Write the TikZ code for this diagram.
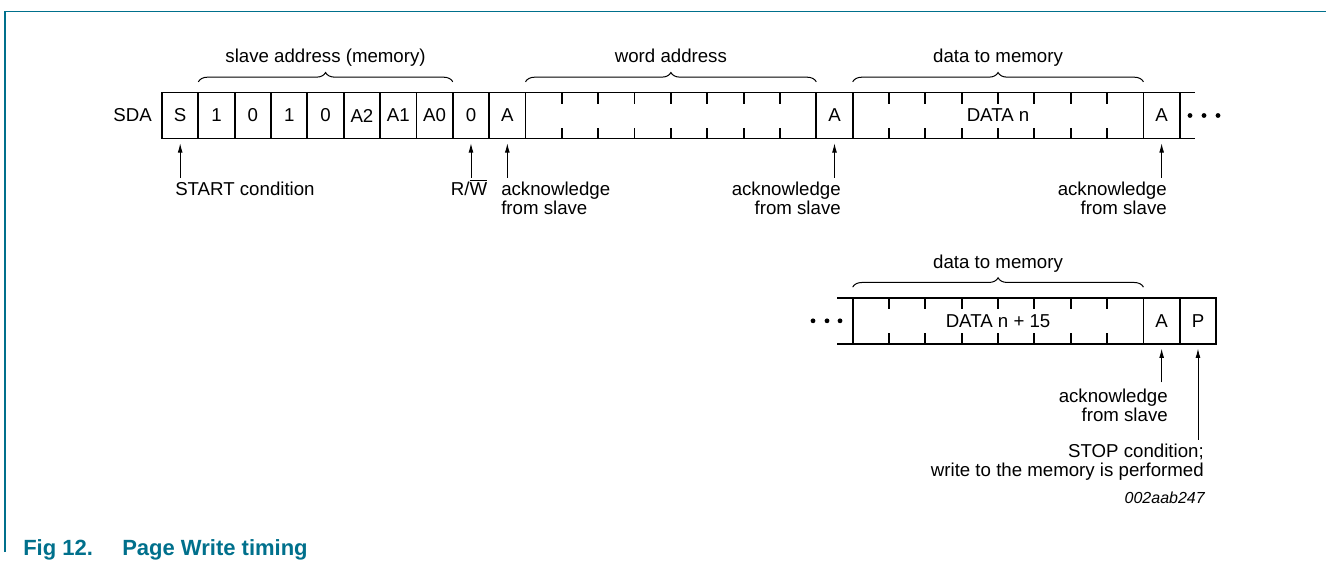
\documentclass[tikz,border=0pt]{standalone}
\usepackage{fontspec}
\setmainfont{Liberation Sans}
\usetikzlibrary{decorations.pathreplacing,arrows.meta}
\definecolor{figteal}{RGB}{0,112,140}

\begin{document}
\begin{tikzpicture}[x=0.75pt,y=0.75pt,
    font=\fontsize{14}{14.2}\selectfont,
    cell/.style={draw,line width=1.4pt,inner sep=0pt,outer sep=0pt,
      minimum height=34.5pt,minimum width=27.26pt},
    block/.style={cell,minimum width=218.1pt},
    bus/.style={line width=1.4pt},
    pointer/.style={-{Latex[length=7pt,width=3.6pt]},line width=0.7pt,shorten >=3.5pt},
    brace/.style={decorate,decoration={brace,amplitude=7pt},line width=0.75pt},
    note/.style={inner sep=0pt}]
  \useasboundingbox (0,0) rectangle (1326,-568);
  \draw[figteal,line width=0.9pt] (5,-552) -- (5,-11.7) -- (1326,-11.7);

  % first frame
  \node[note,anchor=east] (sda) at (152,-115.5) {SDA};
  \foreach \t [count=\k from 0] in {S,1,0,1,0,A2,A1,A0,0,A}
    \node[cell] (c\k) at ({180.175+36.35*\k},-115.5) {\t};
  \node[block,anchor=west] (wa) at (c9.east) {};
  \node[cell,anchor=west] (ack1) at (wa.east) {A};
  \node[block,anchor=west] (dn) at (ack1.east) {DATA n};
  \node[cell,anchor=west] (ack2) at (dn.east) {A};
  \draw[bus] (ack2.north east) -- ++(15,0) (ack2.south east) -- ++(15,0);
  \foreach \x in {1190,1204,1218}
    \fill (\x,-115.5) circle (2.4);

  % second frame
  \foreach \x in {813,827,840}
    \fill (\x,-320.8) circle (2.4);
  \node[block] (dm) at (998.05,-320.8) {DATA n + 15};
  \node[cell,anchor=west] (ack3) at (dm.east) {A};
  \node[cell,anchor=west] (stop) at (ack3.east) {P};
  \draw[bus] (dm.north west) -- ++(-15.6,0) (dm.south west) -- ++(-15.6,0);

  % byte ticks
  \foreach \b in {wa,dn,dm}
    \foreach \i in {1,...,7} {
      \draw[bus] (\b.north west) ++(\i*36.35,0) -- ++(0,-11);
      \draw[bus] (\b.south west) ++(\i*36.35,0) -- ++(0,11);
    }

  % braces
  \draw[brace] ([yshift=8pt]c1.north west) -- ([yshift=8pt]c7.north east)
    node[midway,anchor=base,yshift=14.25pt] (sabr) {slave address (memory)};
  \draw[brace] ([yshift=8pt]wa.north west) -- ([yshift=8pt]wa.north east)
    node[midway,anchor=base,yshift=14.25pt] (wabr) {word address};
  \draw[brace] ([yshift=8pt]dn.north west) -- ([yshift=8pt]dn.north east)
    node[midway,anchor=base,yshift=14.25pt] (dnbr) {data to memory};
  \draw[brace] ([yshift=8pt]dm.north west) -- ([yshift=8pt]dm.north east)
    node[midway,anchor=base,yshift=14.25pt] (dmbr) {data to memory};

  % pointers
  \foreach \n/\m in {c0/p0,c8/p1,c9/p2,ack1/p3,ack2/p4} {
    \coordinate (\m) at ([yshift=-29.6pt]\n.south);
    \draw[pointer] (\m) -- (\n.south);
  }
  \coordinate (p5) at ([yshift=-29pt]ack3.south);
  \coordinate (p6) at ([yshift=-71.8pt]stop.south);
  \draw[pointer] (p5) -- (ack3.south);
  \draw[pointer] (p6) -- (stop.south);

  \node[note,anchor=base west] (startlbl) at (175,-195) {START condition};
  \node[note,anchor=base] (rwlbl) at (469,-195) {R/$\overline{\hbox{W}}$};
  \node[note,anchor=north west,align=left] (ack1lbl) at (501,-181.5) {acknowledge\\from slave};
  \node[note,anchor=north east,align=right] (ack2lbl) at (841,-181.5) {acknowledge\\from slave};
  \node[note,anchor=north east,align=right] (ack3lbl) at (1167,-181.5) {acknowledge\\from slave};
  \node[note,anchor=north east,align=right] (ack4lbl) at (1168,-388.5) {acknowledge\\from slave};
  \node[note,anchor=north east,align=right] (stoplbl) at (1204,-443.5)
    {STOP condition;\\write to the memory is performed};
  \node[note,anchor=base east,font=\fontsize{12}{14}\selectfont\itshape] (fignum)
    at (1205,-503) {002aab247};

  \node[note,anchor=base west,text=figteal,font=\fontsize{16.5}{18}\selectfont\bfseries]
    (caption) at (23,-555) {Fig 12.\hspace{22pt}Page Write timing};
\end{tikzpicture}
\end{document}
